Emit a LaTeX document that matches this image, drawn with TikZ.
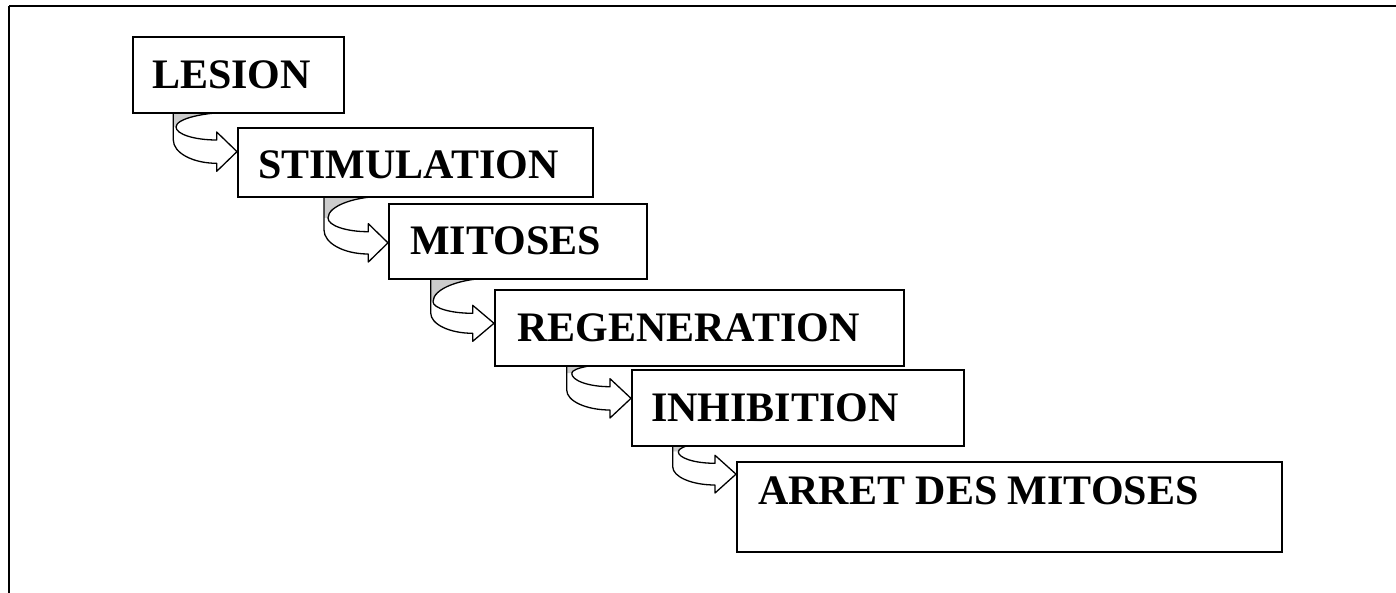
\documentclass[tikz,border=0pt]{standalone}
\usepackage{fontspec}
\setmainfont{Liberation Serif}
\tikzset{
  stepbox/.style={draw=black, line width=1.8pt, fill=white, rectangle, inner sep=0pt, anchor=north west},
  steptext/.style={anchor=base west, inner sep=0pt, font=\fontsize{42}{50}\selectfont\bfseries},
  arrline/.style={line width=1.3pt, line join=round},
  backfill/.style={fill={rgb,255:red,204;green,204;blue,204}},
}
% #1 xL, #2 xI, #3 tip x, #4 yTop, #5 yI, #6 xB, #7 yA, #8 yB, #9 yL2
\newcommand\curvearrow[9]{%
  \fill[backfill] (#1,#4) -- (#3,#4) .. controls ({#3-0.552*(#3-#2)},#4) and (#2,{#5-0.552*(#5-#4)}) .. (#2,#5) -- (#1,#5) -- cycle;
  \fill[white] (#2,#5) .. controls (#2,{#5+0.552*(#7-#5)}) and ({#6-0.552*(#6-#2)},#7) .. (#6,#7)
     -- (#6,#8) .. controls ({#6-0.552*(#6-#1)},#8) and (#1,{#9+0.552*(#8-#9)}) .. (#1,#9) -- (#1,#5) -- cycle;
  \fill[white] (#6,{#7-8}) -- (#3,{(#7+#8)/2}) -- (#6,{#8+8}) -- cycle;
  \draw[arrline] (#2,#5) .. controls (#2,{#5+0.552*(#7-#5)}) and ({#6-0.552*(#6-#2)},#7) .. (#6,#7)
     -- (#6,{#7-8}) -- (#3,{(#7+#8)/2}) -- (#6,{#8+8}) -- (#6,#8)
     .. controls ({#6-0.552*(#6-#1)},#8) and (#1,{#9+0.552*(#8-#9)}) .. (#1,#9) -- (#1,#4);
  \draw[arrline] (#3,#4) .. controls ({#3-0.552*(#3-#2)},#4) and (#2,{#5-0.552*(#5-#4)}) .. (#2,#5);
}
\begin{document}
\begin{tikzpicture}[x=1pt,y=-1pt]
\useasboundingbox (0,0) rectangle (1396,593);
% frame
\draw[line width=2.5pt] (9,6) -- (1396,6);
\draw[line width=1.2pt] (9,6) -- (9,593);

% curved arrows (drawn under the boxes)
\curvearrow{173.3}{176}{237}{112}{127}{216.7}{140}{163.3}{140}
\curvearrow{324}{328}{388}{196}{218}{368.3}{231.7}{254}{230}
\curvearrow{430.7}{433}{494}{278}{301.7}{472.7}{313.3}{333.3}{313}
\curvearrow{566.7}{571.7}{631}{362.9}{373.3}{610}{386.7}{410}{390}
\curvearrow{672.7}{678.3}{736}{440.6}{451.7}{715}{463.3}{485}{466.7}

% boxes
\node[stepbox, minimum width=211pt, minimum height=76pt] (b1) at (132,36) {};
\node[stepbox, minimum width=355pt, minimum height=69pt] (b2) at (237,127) {};
\node[stepbox, minimum width=258pt, minimum height=75pt] (b3) at (388,203) {};
\node[stepbox, minimum width=409pt, minimum height=76pt] (b4) at (494,289) {};
\node[stepbox, minimum width=332pt, minimum height=76pt] (b5) at (631,369) {};
\node[stepbox, minimum width=545pt, minimum height=90pt] (b6) at (736,461) {};

% texts
\node[steptext] (t1) at (152,89) {LESION};
\node[steptext] (t2) at (258,179) {STIMULATION};
\node[steptext] (t3) at (410,255) {MITOSES};
\node[steptext] (t4) at (517,341) {REGENERATION};
\node[steptext] (t5) at (651,421) {INHIBITION};
\node[steptext] (t6) at (758,504) {ARRET DES MITOSES};
\end{tikzpicture}
\end{document}
